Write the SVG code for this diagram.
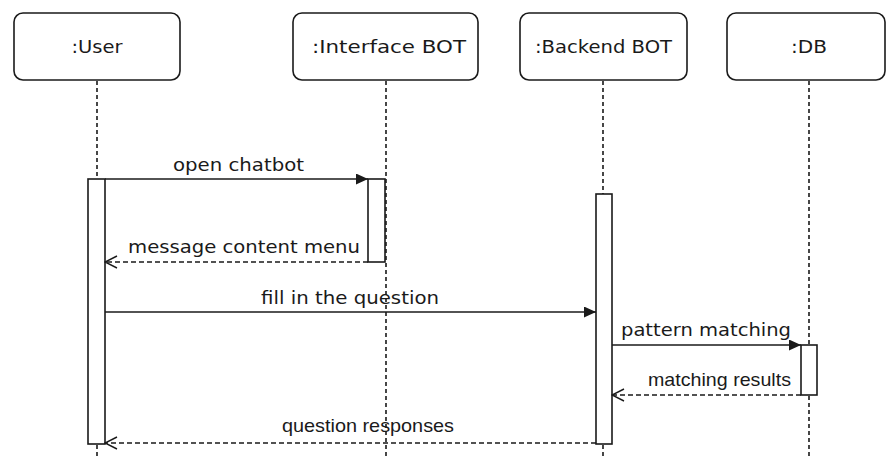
<svg xmlns="http://www.w3.org/2000/svg" width="887" height="457" viewBox="0 0 887 457">
  <style>
    .box { fill: #ffffff; stroke: #1a1a1a; stroke-width: 1.6; }
    .act { fill: #ffffff; stroke: #1a1a1a; stroke-width: 1.6; }
    .life { fill: none; stroke: #1a1a1a; stroke-width: 1.6; stroke-dasharray: 4 3; }
    .msg { fill: none; stroke: #1a1a1a; stroke-width: 1.5; }
    .ret { fill: none; stroke: #1a1a1a; stroke-width: 1.4; stroke-dasharray: 5 3; }
    .lbl { font-family: "DejaVu Sans", Verdana, sans-serif; font-size: 17px; fill: #1a1a1a; text-anchor: middle; }
    .lbl2 { font-family: "Liberation Sans", Arial, sans-serif; font-size: 19px; fill: #1a1a1a; text-anchor: middle; }
  </style>
  <defs>
    <marker id="solid" markerWidth="13" markerHeight="11" refX="12" refY="5.5" orient="auto" markerUnits="userSpaceOnUse">
      <path d="M0,0 L12,5.5 L0,11 Z" fill="#1a1a1a"/>
    </marker>
    <marker id="open" markerWidth="14" markerHeight="14" refX="13" refY="7" orient="auto" markerUnits="userSpaceOnUse">
      <path d="M1,1 L13,7 L1,13" fill="none" stroke="#1a1a1a" stroke-width="1.4"/>
    </marker>
  </defs>
  <rect width="887" height="457" fill="#ffffff"/>

  <!-- lifelines -->
  <g id="lifelines">
    <line class="life" x1="97" y1="81" x2="97" y2="457"/>
    <line class="life" x1="386" y1="81" x2="386" y2="457"/>
    <line class="life" x1="603" y1="81" x2="603" y2="457"/>
    <line class="life" x1="809" y1="81" x2="809" y2="457"/>
  </g>

  <!-- participants -->
  <g id="user">
    <rect class="box" x="14" y="13" width="166" height="67" rx="9"/>
    <text class="lbl" x="97" y="53" textLength="51" lengthAdjust="spacingAndGlyphs">:User</text>
    <rect class="act" x="88" y="179" width="17" height="265"/>
  </g>
  <g id="interface-bot">
    <rect class="box" x="293" y="13" width="185" height="67" rx="9"/>
    <text class="lbl" x="389" y="53" textLength="154" lengthAdjust="spacingAndGlyphs">:Interface BOT</text>
    <rect class="act" x="368" y="179" width="17" height="83"/>
  </g>
  <g id="backend-bot">
    <rect class="box" x="520" y="13" width="167" height="67" rx="9"/>
    <text class="lbl" x="603.5" y="53" textLength="137" lengthAdjust="spacingAndGlyphs">:Backend BOT</text>
    <rect class="act" x="596" y="194" width="16" height="250"/>
  </g>
  <g id="db">
    <rect class="box" x="727" y="13" width="158" height="67" rx="9"/>
    <text class="lbl" x="809" y="53" textLength="36" lengthAdjust="spacingAndGlyphs">:DB</text>
    <rect class="act" x="801" y="345" width="16" height="50"/>
  </g>

  <!-- messages -->
  <g id="connectors">
    <line class="msg" x1="105" y1="179" x2="368" y2="179" marker-end="url(#solid)"/>
    <text class="lbl" x="238.5" y="171" textLength="131" lengthAdjust="spacingAndGlyphs">open chatbot</text>

    <line class="ret" x1="368" y1="262" x2="105" y2="262" marker-end="url(#open)"/>
    <text class="lbl" x="244" y="253" textLength="232" lengthAdjust="spacingAndGlyphs">message content menu</text>

    <line class="msg" x1="105" y1="312" x2="596" y2="312" marker-end="url(#solid)"/>
    <text class="lbl" x="350" y="304" textLength="178" lengthAdjust="spacingAndGlyphs">fill in the question</text>

    <line class="msg" x1="612" y1="345" x2="801" y2="345" marker-end="url(#solid)"/>
    <text class="lbl" x="706" y="336" textLength="170" lengthAdjust="spacingAndGlyphs">pattern matching</text>

    <line class="ret" x1="801" y1="395" x2="612" y2="395" marker-end="url(#open)"/>
    <text class="lbl2" x="719.5" y="386" textLength="143" lengthAdjust="spacingAndGlyphs">matching results</text>

    <line class="ret" x1="596" y1="443" x2="105" y2="443" marker-end="url(#open)"/>
    <text class="lbl2" x="368" y="432" textLength="172" lengthAdjust="spacingAndGlyphs">question responses</text>
  </g>
</svg>
